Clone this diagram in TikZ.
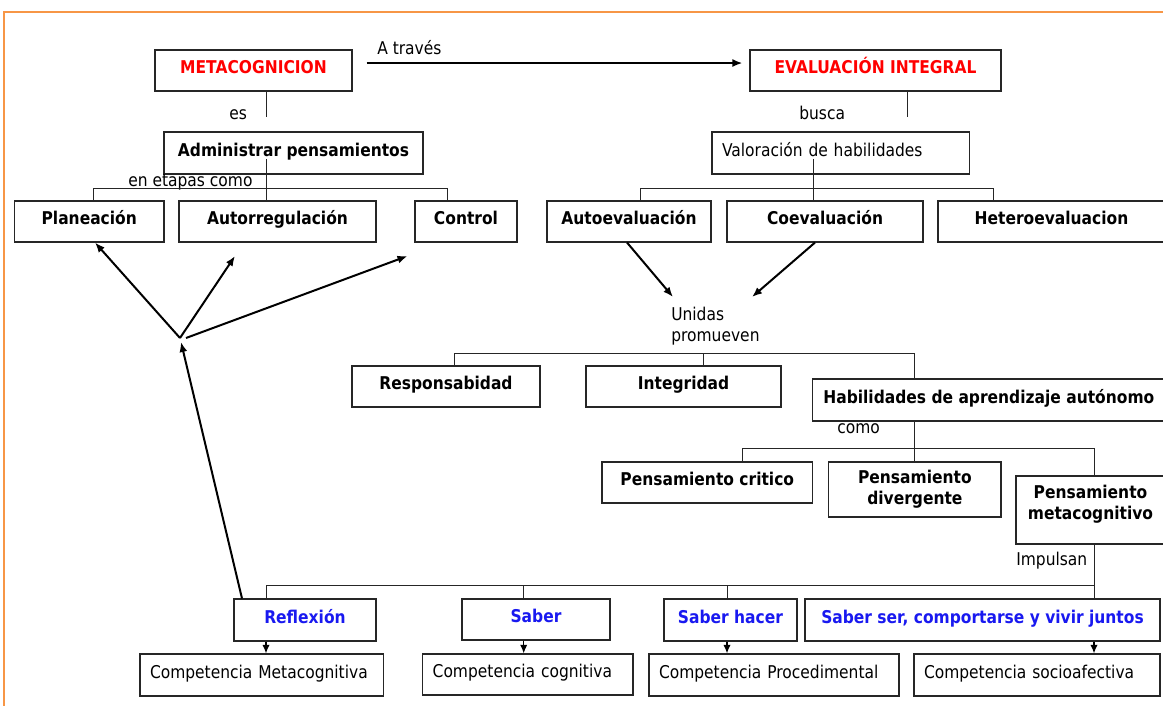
\documentclass[tikz,border=0pt]{standalone}
\usepackage{fontspec}
\setmainfont{DejaVu Sans}[FakeStretch=0.88]
\usetikzlibrary{arrows.meta}
\definecolor{frameor}{RGB}{247,150,70}
\definecolor{tred}{RGB}{255,0,0}
\definecolor{tblue}{RGB}{25,25,240}
\newcommand\fsz{\fontsize{13.2pt}{15.75pt}\selectfont}
\begin{document}
\begin{tikzpicture}[x=0.75pt,y=-0.75pt,
  bx/.style={draw=black!85, line width=0.8pt, inner sep=2pt, font=\fsz\bfseries},
  one/.style={text height=10pt, text depth=4.9pt},
  corners/.style args={#1/#2/#3/#4}{minimum width={(#3-#1)*0.75pt}, minimum height={(#4-#2)*0.75pt}, at={({(#1+#3)/2},{(#2+#4)/2})}},
  lcorners/.style args={#1/#2/#3/#4}{corners=#1/#2/#3/#4, text width={(#3-#1)*0.75pt-15pt}, align=left, inner xsep=7.5pt, font=\fsz\mdseries},
  lbl/.style={inner sep=0pt, font=\fsz},
  ln/.style={draw=black!85, line width=0.75pt},
  arr/.style={draw=black, line width=1.5pt, -{Latex[length=7.5pt,width=6pt]}},
  sarr/.style={draw=black, line width=1pt, -{Latex[length=6.5pt,width=5.5pt]}}
]
\useasboundingbox (0,0) rectangle (1163,706);
\clip (0,0) rectangle (1163,706);
\fill[white] (0,0) rectangle (1163,706);
\draw[frameor, line width=1.5pt] (4,710) -- (4,12) -- (1170,12);

% boxes
\node[bx, one, corners=155/50/352/91, text=tred] (meta) {METACOGNICION};
\node[bx, one, corners=750/50/1001/91, text=tred] (evalint) {EVALUACIÓN INTEGRAL};
\node[bx, one, corners=164/132/423/174] (admin) {Administrar pensamientos};
\node[bx, one, lcorners=712/132/969.5/174] (valor) {Valoración de habilidades};
\node[bx, one, corners=14.5/201/164/242] (plan) {Planeación};
\node[bx, one, corners=179/201/376/242] (autor) {Autorregulación};
\node[bx, one, corners=415/201/517/242] (ctrl) {Control};
\node[bx, one, corners=547/201/711/242] (autoev) {Autoevaluación};
\node[bx, one, corners=727/201/923/242] (coev) {Coevaluación};
\node[bx, one, corners=938/201/1165/242] (hetero) {Heteroevaluacion};
\node[bx, one, corners=352/366/540/407] (resp) {Responsabidad};
\node[bx, one, corners=586/366/781/407] (integ) {Integridad};
\node[bx, one, corners=812.6/379/1165/421] (habil) {Habilidades de aprendizaje autónomo};
\node[bx, one, corners=602/462/812.6/503] (crit) {Pensamiento critico};
\node[bx, corners=828.7/462/1001/517] (diverg) {\begin{tabular}{@{}c@{}}Pensamiento\\divergente\end{tabular}};
\node[bx, corners=1016/476/1165/544] (metac) {\raisebox{0pt}[12pt][14.4pt]{\begin{tabular}{@{}c@{}}Pensamiento\\metacognitivo\end{tabular}}};
\node[bx, one, corners=234/599/376/641, text=tblue] (refl) {Reflexión};
\node[bx, one, corners=462/599/610/640, text=tblue] (saber) {Saber};
\node[bx, one, corners=664/599/797/641, text=tblue] (shacer) {Saber hacer};
\node[bx, one, corners=805/599/1160/641, text=tblue] (sser) {Saber ser, comportarse y vivir juntos};
\node[bx, one, lcorners=140/654/383.5/696] (cmeta) {Competencia Metacognitiva};
\node[bx, one, lcorners=422.7/654/633/695] (ccog) {Competencia cognitiva};
\node[bx, one, lcorners=649/654/899/696] (cproc) {Competencia Procedimental};
\node[bx, one, lcorners=914/654/1160/696] (csoc) {Competencia socioafectiva};

% labels
\node[lbl, anchor=base west] (atr) at (377,55) {A través};
\node[lbl, anchor=base west] (es) at (229,120) {es};
\node[lbl, anchor=base west] (etapas) at (128,186.5) {en etapas como};
\node[lbl, anchor=base west] (busca) at (799,120) {busca};
\node[lbl, anchor=base west] (unidas) at (671,320.7) {Unidas};
\node[lbl, anchor=base west] (promueven) at (671,341) {promueven};
\node[lbl, anchor=base west] (como) at (837,433) {como};
\node[lbl, anchor=base west] (impulsan) at (1016,565) {Impulsan};

% coordinates
\coordinate (m1) at (266,117);
\coordinate (a1) at (266,159);
\coordinate (b1) at (93,188);
\coordinate (b2) at (447,188);
\coordinate (e1) at (907,117);
\coordinate (v1) at (813,159);
\coordinate (b3) at (640,188);
\coordinate (b4) at (993,188);
\coordinate (u1) at (673,297);
\coordinate (u2) at (752,297);
\coordinate (r0) at (454,353);
\coordinate (r1) at (703.5,353);
\coordinate (r2) at (914,353);
\coordinate (h0) at (742.5,448);
\coordinate (h1) at (914,448);
\coordinate (h2) at (1094,448);
\coordinate (s0) at (266,585);
\coordinate (s1) at (523.7,585);
\coordinate (s2) at (727,585);
\coordinate (s3) at (1094,585);
\coordinate (br) at (180,338);
\coordinate (br0) at (181,342);
\coordinate (br2) at (186,338);
\coordinate (ar) at (235,256);
\coordinate (ac) at (407.5,256);

% connectors
\draw[ln] (meta.south -| m1) -- (m1);
\draw[ln] (a1) -- (a1 |- autor.north);
\draw[ln] (b1 |- plan.north) -- (b1) -- (b2) -- (b2 |- ctrl.north);
\draw[ln] (evalint.south -| e1) -- (e1);
\draw[ln] (v1) -- (v1 |- coev.north);
\draw[ln] (b3 |- autoev.north) -- (b3) -- (b4) -- (b4 |- hetero.north);
\draw[arr] ([xshift=10.5pt,yshift=5.6pt]meta.east) -- ([xshift=-5.25pt,yshift=5.6pt]evalint.west);
\draw[arr] ([xshift=-1.5pt]autoev.south) -- (u1);
\draw[arr] ([xshift=-7.5pt]coev.south) -- (u2);
\draw[ln] (r0 |- resp.north) -- (r0) -- (r2) -- (r2 |- habil.north);
\draw[ln] (r1) -- (r1 |- integ.north);
\draw[ln] (habil.south -| h1) -- (h1);
\draw[ln] (h0 |- crit.north) -- (h0) -- (h2) -- (h2 |- metac.north);
\draw[ln] (h1) -- (h1 |- diverg.north);
\draw[ln] (metac.south -| s3) -- (s3 |- sser.north);
\draw[ln] (s0 |- refl.north) -- (s0) -- (s3);
\draw[ln] (s1) -- (s1 |- saber.north);
\draw[ln] (s2) -- (s2 |- shacer.north);
\draw[sarr] (refl.south -| s0) -- (cmeta.north -| s0);
\draw[sarr] (saber.south -| s1) -- (ccog.north -| s1);
\draw[sarr] (shacer.south -| s2) -- (cproc.north -| s2);
\draw[sarr] (sser.south -| s3) -- (csoc.north -| s3);
\draw[arr] ([xshift=-47.25pt]refl.north) -- (br0);
\draw[arr] (br) -- ([xshift=4.3pt]plan.south);
\draw[arr] (br) -- (ar);
\draw[arr] (br2) -- (ac);
\end{tikzpicture}
\end{document}
